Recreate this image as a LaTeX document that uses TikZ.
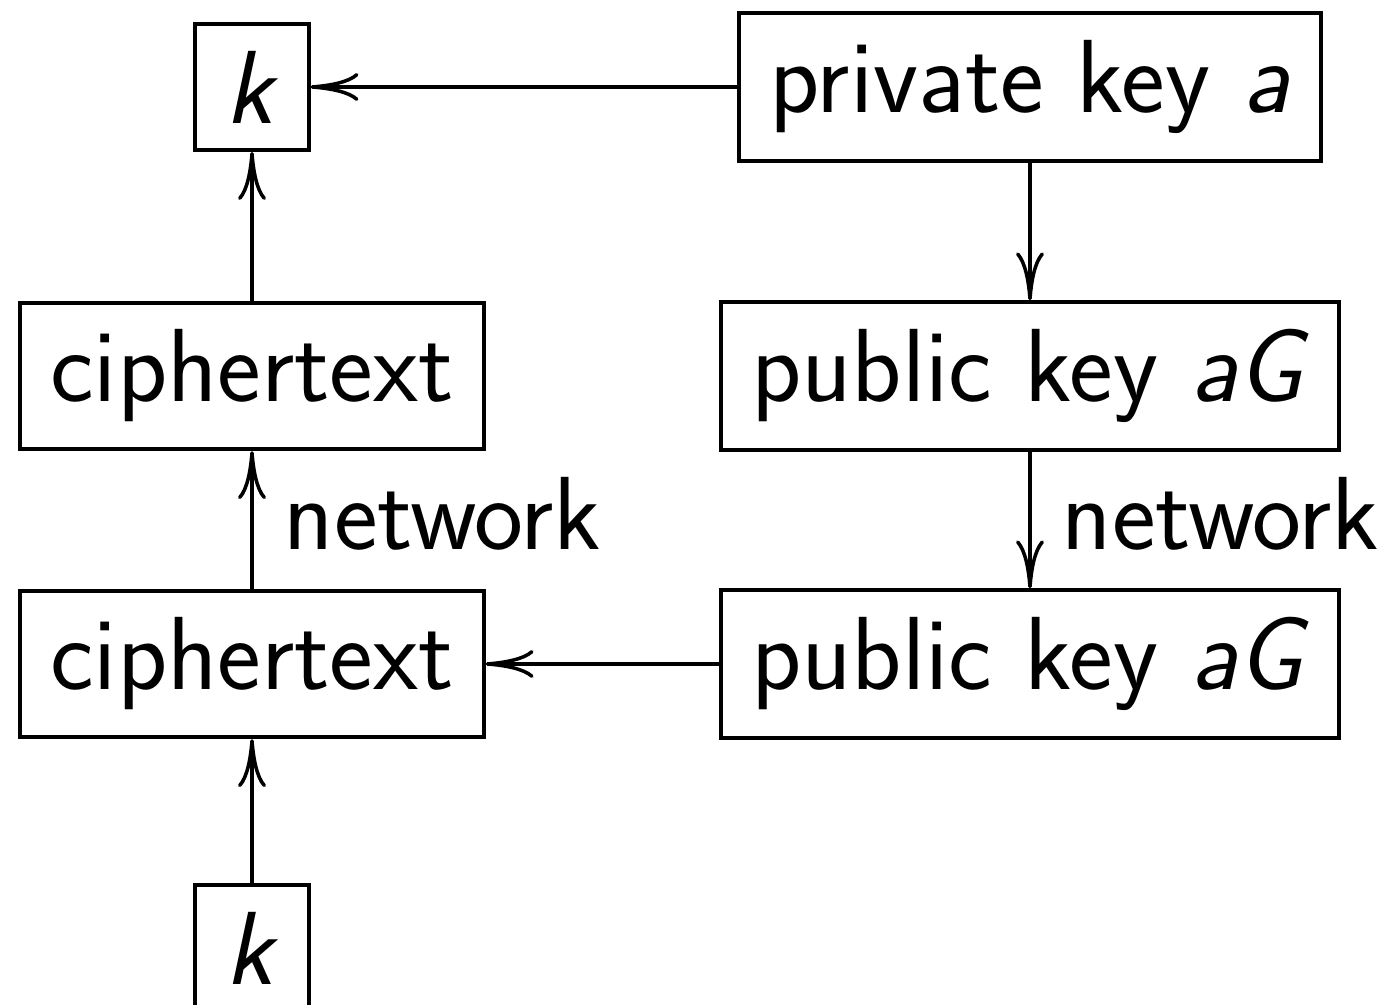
\documentclass[tikz,border=0pt]{standalone}
\usepackage{fontspec}
\usetikzlibrary{arrows.meta}
\newcommand{\keyVar}[1]{\textit{#1}}

\begin{document}
\begin{tikzpicture}[
        keybox/.style={draw, line width=1.1pt, inner xsep=0.3cm, inner ysep=0.27cm, font=\sffamily\fontsize{29.6pt}{35pt}\selectfont},
        flow/.style={line width=1pt, -{To[length=4.8mm,width=2.8mm]}},
        netlabel/.style={right, inner sep=0.3cm, yshift=0.06cm, font=\sffamily\fontsize{29.6pt}{35pt}\selectfont}
    ]
        \useasboundingbox (0,0) rectangle (13.87,10.05);
        \node[keybox] (kTop) at (2.52,9.18){\keyVar{k}};
        \node[keybox] (privKey) at (10.30,9.18){private key \keyVar{a}};
        \node[keybox] (cipherTop) at (2.52,6.29){ciphertext};
        \node[keybox] (pubTop) at (10.30,6.29){public key \keyVar{aG}};
        \node[keybox] (cipherBot) at (2.52,3.41){ciphertext};
        \node[keybox] (pubBot) at (10.30,3.41){public key \keyVar{aG}};
        \node[keybox] (kBot) at (2.52,0.57){\keyVar{k}};
        \draw [flow] (privKey) -- (kTop);
        \draw [flow] (privKey) -- (pubTop);
        \draw [flow] (pubTop) -- node[netlabel]{network} (pubBot);
        \draw [flow] (pubBot) -- (cipherBot);
        \draw [flow] (kBot) -- (cipherBot);
        \draw [flow] (cipherBot) -- node[netlabel]{network} (cipherTop);
        \draw [flow] (cipherTop) -- (kTop);
      \end{tikzpicture}
\end{document}
